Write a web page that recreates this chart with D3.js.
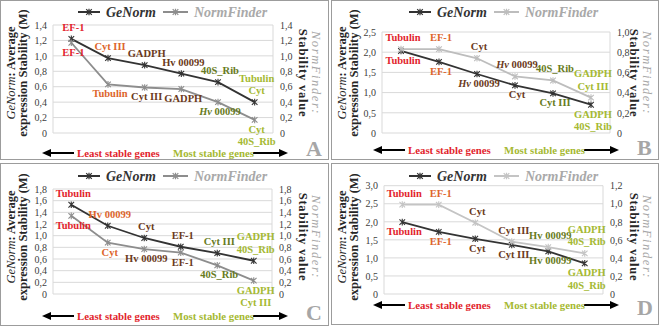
<!DOCTYPE html>
<html>
<head>
<meta charset="utf-8">
<script src="https://cdnjs.cloudflare.com/ajax/libs/d3/7.8.5/d3.min.js"></script>
<style>
  body { margin: 0; background: #fff; }
  svg, svg text { font-family: "Liberation Serif", "DejaVu Serif", serif; }
</style>
</head>
<body>
<div id="chart"></div>
<script>
// ---- data ----
// "|" splits a label in two lines, <i>..</i> marks italic text

// Panel A
const genesGenormA = ["EF-1", "Cyt III", "GADPH", "Hv 00099", "40S_Rib", "Tubulin|Cyt"];
const valuesGenormA = [1.22, 0.97, 0.88, 0.77, 0.66, 0.40];
const genesNormfinderA = ["EF-1", "Tubulin", "Cyt III", "GADPH", "<i>Hv</i> 00099", "Cyt|40S_Rib"];
const valuesNormfinderA = [1.17, 0.63, 0.59, 0.57, 0.40, 0.17];
const ticksLeftA = [0, 0.2, 0.4, 0.6, 0.8, 1.0, 1.2, 1.4];
const ticksRightA = [0, 0.2, 0.4, 0.6, 0.8, 1.0, 1.2, 1.4];

// Panel B
const genesGenormB = ["Tubulin", "EF-1", "<i>Hv</i> 00099", "Cyt", "Cyt III", "GADPH|40S_Rib"];
const valuesGenormB = [2.03, 1.76, 1.46, 1.18, 0.98, 0.70];
const genesNormfinderB = ["Tubulin", "EF-1", "Cyt", "<i>Hv</i> 00099", "40S_Rib", "GADPH|Cyt III"];
const valuesNormfinderB = [0.83, 0.83, 0.74, 0.56, 0.52, 0.35];
const ticksLeftB = [0, 0.5, 1.0, 1.5, 2.0, 2.5];
const ticksRightB = [0, 0.2, 0.4, 0.6, 0.8, 1.0];

// Panel C
const genesGenormC = ["Tubulin", "Hv 00099", "Cyt", "EF-1", "Cyt III", "GADPH|40S_Rib"];
const valuesGenormC = [1.53, 1.17, 0.96, 0.81, 0.70, 0.57];
const genesNormfinderC = ["Tubulin", "Cyt", "Hv 00099", "EF-1", "40S_Rib", "GADPH|Cyt III"];
const valuesNormfinderC = [1.34, 0.88, 0.77, 0.71, 0.49, 0.23];
const ticksLeftC = [0, 0.2, 0.4, 0.6, 0.8, 1.0, 1.2, 1.4, 1.6, 1.8];
const ticksRightC = [0, 0.2, 0.4, 0.6, 0.8, 1.0, 1.2, 1.4, 1.6, 1.8];

// Panel D
const genesGenormD = ["Tubulin", "EF-1", "Cyt", "Cyt III", "Hv 00099", "GADPH|40S_Rib"];
const valuesGenormD = [1.99, 1.72, 1.53, 1.36, 1.18, 0.85];
const genesNormfinderD = ["Tubulin", "EF-1", "Cyt", "Cyt III", "Hv 00099", "GADPH|40S_Rib"];
const valuesNormfinderD = [0.99, 0.99, 0.79, 0.58, 0.52, 0.45];
const ticksLeftD = [0, 0.5, 1.0, 1.5, 2.0, 2.5, 3.0];
const ticksRightD = [0, 0.2, 0.4, 0.6, 0.8, 1.0, 1.2];

const legendNames = ["GeNorm", "NormFinder"];
const bottomTexts = ["Least stable genes", "Most stable genes"];

// label colour by rank (least -> most stable)
const rankColors = ["#e2242c", "#dd652c", "#6b3a1b", "#6b3a1b", "#687b22", "#a5b932"];

const FONT = "'Liberation Serif', 'DejaVu Serif', serif";

// ---- layout (positions only) ----
const panelLayout = [
    {letter: "A", x: 0, y: 0, frame: [0.5, 0.5, 328, 159], plotL: 53, plotR: 273, plotT: 25, plotB: 133,
        arrowY: 153, letterY: 156, genormAbove: true, nfColor: "#8d8d8d"},
    {letter: "B", x: 331, y: 0, frame: [0.5, 0.5, 327, 159], plotL: 51, plotR: 279, plotT: 32, plotB: 133,
        arrowY: 150, letterY: 155, genormAbove: false, nfColor: "#bdbdbd"},
    {letter: "C", x: 0, y: 164, frame: [0.5, -0.5, 328, 162], plotL: 53, plotR: 272, plotT: 25, plotB: 130,
        arrowY: 152, letterY: 156, genormAbove: true, nfColor: "#8d8d8d"},
    {letter: "D", x: 331, y: 164, frame: [0.5, -0.5, 327, 161], plotL: 53, plotR: 272, plotT: 21.7, plotB: 130,
        arrowY: 141, letterY: 151, genormAbove: false, nfColor: "#c4c4c4"}
];

const panelData = [
    {genorm: genesGenormA, genormV: valuesGenormA, nf: genesNormfinderA, nfV: valuesNormfinderA, left: ticksLeftA, right: ticksRightA},
    {genorm: genesGenormB, genormV: valuesGenormB, nf: genesNormfinderB, nfV: valuesNormfinderB, left: ticksLeftB, right: ticksRightB},
    {genorm: genesGenormC, genormV: valuesGenormC, nf: genesNormfinderC, nfV: valuesNormfinderC, left: ticksLeftC, right: ticksRightC},
    {genorm: genesGenormD, genormV: valuesGenormD, nf: genesNormfinderD, nfV: valuesNormfinderD, left: ticksLeftD, right: ticksRightD}
];

const svg = d3.select("#chart").append("svg")
    .attr("width", 662)
    .attr("height", 329)
    .attr("font-family", FONT);

svg.append("rect").attr("width", 662).attr("height", 329).attr("fill", "#fff");

// star marker (x with a vertical stroke)
const starPath = "M-2.8,-2.8L2.8,2.8M-2.8,2.8L2.8,-2.8M0,-3.3L0,3.3";

// write "abc <i>Hv</i> def" into a text element as tspans
function richText(sel, str) {
    str.split(/(<i>.*?<\/i>)/).filter(s => s.length).forEach(p => {
        let it = p.startsWith("<i>");
        sel.append("tspan")
            .style("font-style", it ? "italic" : null)
            .text(it ? p.slice(3, -4) : p);
    });
}

const fmt = v => v === 0 ? "0" : d3.format(".1f")(v).replace(".", ",");


class StabilityPanel {

    constructor(_svg, _layout, _data) {
        this.svg = _svg;
        this.layout = _layout;
        this.data = _data;

        this.initVis();
    }

    initVis() {
        let vis = this;
        let L = vis.layout;

        vis.g = vis.svg.append("g")
            .attr("font-family", FONT)
            .attr("transform", "translate(" + L.x + "," + L.y + ")");

        // panel frame
        vis.g.append("rect")
            .attr("x", L.frame[0]).attr("y", L.frame[1])
            .attr("width", L.frame[2]).attr("height", L.frame[3])
            .attr("fill", "none")
            .attr("stroke", "#9c9c9c");

        // scales
        vis.x = d3.scalePoint()
            .domain(d3.range(vis.data.genormV.length))
            .range([L.plotL, L.plotR])
            .padding(0.5);

        vis.yLeft = d3.scaleLinear()
            .domain([0, d3.max(vis.data.left)])
            .range([L.plotB, L.plotT]);

        vis.yRight = d3.scaleLinear()
            .domain([0, d3.max(vis.data.right)])
            .range([L.plotB, L.plotT]);

        // gridlines + plot box
        vis.g.append("g")
            .selectAll("line")
            .data(vis.data.left)
            .join("line")
            .attr("x1", L.plotL).attr("x2", L.plotR)
            .attr("y1", d => vis.yLeft(d)).attr("y2", d => vis.yLeft(d))
            .attr("stroke", "#d9d9d9");

        [L.plotL, L.plotR].forEach(xx => {
            vis.g.append("line")
                .attr("x1", xx).attr("x2", xx)
                .attr("y1", L.plotT).attr("y2", L.plotB)
                .attr("stroke", "#d9d9d9");
        });

        // axes
        let leftAxis = vis.g.append("g")
            .attr("transform", "translate(" + L.plotL + ",0)")
            .call(d3.axisLeft(vis.yLeft).tickValues(vis.data.left).tickSize(0).tickPadding(6).tickFormat(fmt));

        let rightAxis = vis.g.append("g")
            .attr("transform", "translate(" + L.plotR + ",0)")
            .call(d3.axisRight(vis.yRight).tickValues(vis.data.right).tickSize(0).tickPadding(7).tickFormat(fmt));

        [leftAxis, rightAxis].forEach(ax => {
            ax.attr("font-family", FONT).attr("font-size", 10);
            ax.select(".domain").remove();
            ax.selectAll("text")
                .attr("fill", "#404040");
        });

        // left axis title
        let lt1 = vis.g.append("text")
            .attr("transform", "translate(14.5,73) rotate(-90)")
            .attr("text-anchor", "middle")
            .style("font-size", "12.5px")
            .attr("fill", "#262626");
        lt1.append("tspan").style("font-style", "italic").text("GeNorm");
        lt1.append("tspan").style("font-weight", "bold").text(": Average");

        vis.g.append("text")
            .attr("transform", "translate(26.5,73) rotate(-90)")
            .attr("text-anchor", "middle")
            .style("font-size", "12.5px")
            .style("font-weight", "bold")
            .attr("fill", "#262626")
            .text("expression Stability (M)");

        // right axis title
        vis.g.append("text")
            .attr("transform", "translate(298.5,73) rotate(90)")
            .attr("text-anchor", "middle")
            .style("font-size", "12.5px")
            .style("font-weight", "bold")
            .style("letter-spacing", "0.8px")
            .attr("fill", "#262626")
            .text("Stability value");

        vis.g.append("text")
            .attr("transform", "translate(311.5,73) rotate(90)")
            .attr("text-anchor", "middle")
            .style("font-size", "12.5px")
            .style("font-style", "italic")
            .style("letter-spacing", "1.6px")
            .attr("fill", "#a6a6a6")
            .text("NormFinder:");

        // legend
        let legend = vis.g.append("g");
        let legendItems = [
            {name: legendNames[0], color: "#333", x1: 78, x2: 100, tx: 106, tc: "#333"},
            {name: legendNames[1], color: L.nfColor, x1: 163, x2: 188, tx: 194, tc: "#a9a9a9"}
        ];
        legendItems.forEach(it => {
            legend.append("line")
                .attr("x1", it.x1).attr("x2", it.x2)
                .attr("y1", 12).attr("y2", 12)
                .attr("stroke", it.color).attr("stroke-width", 2);
            legend.append("path")
                .attr("d", starPath)
                .attr("transform", "translate(" + (it.x1 + it.x2) / 2 + ",12)")
                .attr("stroke", it.color).attr("stroke-width", 1.2).attr("fill", "none");
            legend.append("text")
                .attr("x", it.tx).attr("y", 17)
                .style("font-size", "14px")
                .style("font-weight", "bold")
                .style("font-style", "italic")
                .attr("fill", it.tc)
                .text(it.name);
        });

        // bottom arrows + texts
        let ay = L.arrowY;
        vis.g.append("line")
            .attr("x1", 48).attr("x2", 74).attr("y1", ay).attr("y2", ay)
            .attr("stroke", "#000").attr("stroke-width", 2);
        vis.g.append("path")
            .attr("d", "M42," + ay + "L51," + (ay - 4) + "L51," + (ay + 4) + "Z")
            .attr("fill", "#000");
        vis.g.append("line")
            .attr("x1", 253).attr("x2", 282).attr("y1", ay).attr("y2", ay)
            .attr("stroke", "#000").attr("stroke-width", 2);
        vis.g.append("path")
            .attr("d", "M288," + ay + "L279," + (ay - 4) + "L279," + (ay + 4) + "Z")
            .attr("fill", "#000");

        vis.g.append("text")
            .attr("x", 77).attr("y", ay + 4)
            .style("font-size", "10.8px").style("font-weight", "bold")
            .attr("fill", rankColors[0])
            .text(bottomTexts[0]);
        vis.g.append("text")
            .attr("x", 173).attr("y", ay + 4)
            .style("font-size", "10.8px").style("font-weight", "bold")
            .attr("fill", rankColors[5])
            .text(bottomTexts[1]);

        // panel letter
        vis.g.append("text")
            .attr("x", 306).attr("y", L.letterY)
            .style("font-size", "22px").style("font-weight", "bold")
            .attr("fill", "#a6a6a6")
            .text(L.letter);

        vis.wrangleData();
    }

    wrangleData() {
        let vis = this;

        vis.series = [
            {values: vis.data.genormV, genes: vis.data.genorm, y: vis.yLeft, color: "#333",
                width: 1.8, above: vis.layout.genormAbove},
            {values: vis.data.nfV, genes: vis.data.nf, y: vis.yRight, color: vis.layout.nfColor,
                width: 1.8, above: !vis.layout.genormAbove}
        ];

        vis.updateVis();
    }

    updateVis() {
        let vis = this;

        vis.series.forEach(s => {
            let pts = s.values.map((v, i) => ({i: i, v: v, gene: s.genes[i]}));

            let line = d3.line()
                .x(d => vis.x(d.i))
                .y(d => s.y(d.v));

            vis.g.append("path")
                .datum(pts)
                .attr("d", line)
                .attr("fill", "none")
                .attr("stroke", s.color)
                .attr("stroke-width", s.width);

            vis.g.append("g")
                .selectAll("path")
                .data(pts)
                .join("path")
                .attr("d", starPath)
                .attr("transform", d => "translate(" + vis.x(d.i) + "," + s.y(d.v) + ")")
                .attr("stroke", s.color)
                .attr("stroke-width", 1.1)
                .attr("fill", "none");

            // data labels
            pts.forEach(d => {
                let lines = d.gene.split("|");
                let px = vis.x(d.i) + 2;
                let py = s.y(d.v);
                lines.forEach((ln, k) => {
                    let yy = s.above
                        ? py - 8 - (lines.length - 1 - k) * 12.5
                        : py + 13 + k * 12.5;
                    let t = vis.g.append("text")
                        .attr("x", px).attr("y", yy)
                        .attr("text-anchor", "middle")
                        .style("font-size", "10.5px")
                        .style("font-weight", "bold")
                        .attr("fill", rankColors[d.i]);
                    richText(t, ln);
                });
            });
        });
    }
}

panelLayout.forEach((layout, i) => new StabilityPanel(svg, layout, panelData[i]));
</script>
</body>
</html>
